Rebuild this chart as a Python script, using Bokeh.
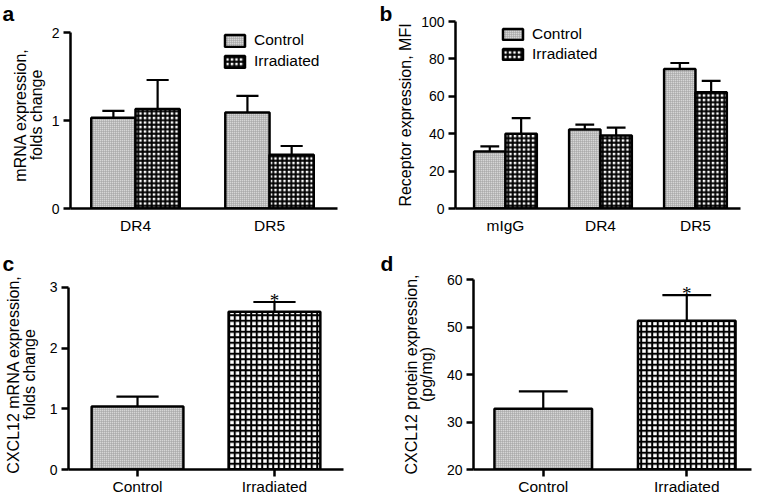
from bokeh.plotting import figure
from bokeh.models import ColumnDataSource, FixedTicker, Legend, LegendItem, Range1d
from bokeh.layouts import row, column
from bokeh.embed import file_html
from bokeh.resources import INLINE

FONT = "Liberation Sans"

# ---------------- data ----------------
group_labels = ["Control", "Irradiated"]

a_categories = ["DR4", "DR5"]
a_control = [1.03, 1.09]
a_control_sem = [0.08, 0.19]
a_irradiated = [1.13, 0.61]
a_irradiated_sem = [0.33, 0.10]
a_yticks = [0, 1, 2]

b_categories = ["mIgG", "DR4", "DR5"]
b_control = [30.5, 42.3, 74.6]
b_control_sem = [2.7, 2.5, 3.2]
b_irradiated = [40.0, 39.0, 62.2]
b_irradiated_sem = [8.3, 4.2, 6.0]
b_yticks = [0, 20, 40, 60, 80, 100]

c_categories = ["Control", "Irradiated"]
c_values = [1.04, 2.60]
c_sem = [0.16, 0.16]
c_marks = ["", "*"]
c_yticks = [0, 1, 2, 3]

d_categories = ["Control", "Irradiated"]
d_values = [32.8, 51.3]
d_sem = [3.65, 5.4]
d_marks = ["", "*"]
d_yticks = [20, 30, 40, 50, 60]

# ---------------- styles ----------------
CONTROL_STYLE = dict(fill_color="#d6d6d6", hatch_pattern="+", hatch_color="#9e9e9e",
                     hatch_scale=2, hatch_weight=1, line_color="black", line_width=2.5)


def irr_style(scale):
    return dict(fill_color="white", hatch_pattern="+", hatch_color="black",
                hatch_scale=scale, hatch_weight=2, line_color="black", line_width=2.5)


def make_fig(w, h, borders, xr, yr, ybounds, yticks, categories, ylabel, ylabel_standoff,
             xticks_visible, letter, letter_offset, letter_standoff):
    bl, br, bt, bb = borders
    p = figure(width=w, height=h, x_range=Range1d(*xr), y_range=Range1d(*yr),
               output_backend="svg", toolbar_location=None, title=letter,
               min_border_left=bl, min_border_right=br, min_border_top=bt, min_border_bottom=bb)
    p.title.text_font = FONT
    p.title.text_font_style = "bold"
    p.title.text_font_size = "21px"
    p.title.text_color = "black"
    p.title.align = "left"
    p.title.vertical_align = "top"
    p.title.offset = letter_offset
    p.title.standoff = letter_standoff
    p.outline_line_color = None
    p.xgrid.visible = False
    p.ygrid.visible = False
    p.background_fill_color = "white"
    p.border_fill_color = "white"
    for ax in p.axis:
        ax.axis_line_width = 2.5
        ax.axis_line_color = "black"
        ax.major_tick_line_width = 2.5
        ax.major_tick_line_color = "black"
        ax.major_tick_in = 0
        ax.minor_tick_line_color = None
        ax.minor_tick_out = 0
        ax.minor_tick_in = 0
        ax.major_label_text_font = FONT
        ax.major_label_text_color = "black"
        ax.axis_label_text_font = FONT
        ax.axis_label_text_font_style = "normal"
        ax.axis_label_text_font_size = "16px"
        ax.axis_label_text_color = "black"
        ax.axis_label_text_line_height = 0.9
    p.yaxis.ticker = FixedTicker(ticks=yticks)
    p.yaxis.bounds = ybounds
    p.yaxis.major_tick_out = 7
    p.yaxis.major_label_standoff = 4
    p.yaxis.major_label_text_font_size = "14px"
    p.yaxis.axis_label = ylabel
    p.yaxis.axis_label_standoff = ylabel_standoff
    positions = [i + 1 for i in range(len(categories))]
    p.xaxis.ticker = FixedTicker(ticks=positions)
    p.xaxis.major_label_overrides = {pos: cat for pos, cat in zip(positions, categories)}
    p.xaxis.major_label_text_font_size = "15.5px"
    if xticks_visible:
        p.xaxis.major_tick_out = 7
        p.xaxis.major_label_standoff = 1
    else:
        p.xaxis.major_tick_out = 0
        p.xaxis.major_tick_line_color = None
        p.xaxis.major_label_standoff = 8
    return p


def add_bars(p, x, values, sem, width, base, style, cap_frac=0.5):
    tops = [v + s for v, s in zip(values, sem)]
    src = ColumnDataSource(dict(
        x=x, top=values, bottom=[base] * len(values), err=tops,
        cx0=[xi - width * cap_frac / 2 for xi in x],
        cx1=[xi + width * cap_frac / 2 for xi in x],
    ))
    r = p.vbar(x="x", top="top", bottom="bottom", width=width, source=src, **style)
    p.segment(x0="x", y0="top", x1="x", y1="err", source=src, line_color="black", line_width=2.2)
    p.segment(x0="cx0", y0="err", x1="cx1", y1="err", source=src, line_color="black", line_width=2.2)
    return r


def add_legend(p, renderers, loc, glyph_h, spacing):
    items = [LegendItem(label=lab, renderers=[r]) for lab, r in zip(group_labels, renderers)]
    lg = Legend(items=items, location=loc, glyph_width=25, glyph_height=glyph_h,
                label_height=18, spacing=spacing, padding=0, margin=0,
                border_line_color=None, background_fill_alpha=0, label_standoff=7,
                label_text_font=FONT, label_text_font_size="15.5px",
                label_text_color="black", label_text_baseline="middle")
    p.add_layout(lg)


def add_marks(p, x, values, sem, marks):
    tops = [v + s for v, s in zip(values, sem)]
    src = ColumnDataSource(dict(x=x, y=tops, t=marks))
    p.text(x="x", y="y", text="t", source=src, text_align="center", text_baseline="alphabetic",
           y_offset=-2, text_font_size="19px", text_color="black", text_font=FONT)


Wl, Wr, Ht, Hb = 379, 379, 240, 257

# ---------------- panel a ----------------
pa = make_fig(Wl, Ht, (70, 42, 21, 32), (0.515, 2.507), (0, 2.125), (0, 2), a_yticks, a_categories,
              "mRNA expression,\nfolds change", 4, False, "a", -68, -10)
xa = [i + 1 for i in range(len(a_categories))]
bw_a = 0.33
ra1 = add_bars(pa, [x - bw_a / 2 for x in xa], a_control, a_control_sem, bw_a, 0, CONTROL_STYLE)
ra2 = add_bars(pa, [x + bw_a / 2 for x in xa], a_irradiated, a_irradiated_sem, bw_a, 0, irr_style(4.5))
add_legend(pa, [ra1, ra2], (152, 138), 15, 3)

# ---------------- panel b ----------------
pb = make_fig(Wr, Ht, (76, 18, 21, 32), (0.474, 3.474), (0, 100), (0, 100), b_yticks, b_categories,
              "Receptor expression, MFI", 4, False, "b", -76, -10)
xb = [i + 1 for i in range(len(b_categories))]
bw_b = 0.33
rb1 = add_bars(pb, [x - bw_b / 2 for x in xb], b_control, b_control_sem, bw_b, 0, CONTROL_STYLE, 0.6)
rb2 = add_bars(pb, [x + bw_b / 2 for x in xb], b_irradiated, b_irradiated_sem, bw_b, 0, irr_style(4.5), 0.6)
add_legend(pb, [rb1, rb2], (45, 145), 14, 2)

# ---------------- panel c ----------------
pc = make_fig(Wl, Hb, (68, 36, 39, 27), (0.496, 2.504), (0, 3.131), (0, 3), c_yticks, c_categories,
              "CXCL12 mRNA expression,\nfolds change", 9, True, "c", -66, 6)
xc = [i + 1 for i in range(len(c_categories))]
add_bars(pc, xc[:1], c_values[:1], c_sem[:1], 0.67, 0, CONTROL_STYLE, 0.46)
add_bars(pc, xc[1:], c_values[1:], c_sem[1:], 0.67, 0, irr_style(5.5), 0.46)
add_marks(pc, xc, c_values, c_sem, c_marks)

# ---------------- panel d ----------------
pd_ = make_fig(Wr, Hb, (94, 7, 39, 27), (0.514, 2.451), (20, 60), (20, 60), d_yticks, d_categories,
               "CXCL12 protein expression,\n(pg/mg)", 9, True, "d", -93, 6)
xd = [i + 1 for i in range(len(d_categories))]
add_bars(pd_, xd[:1], d_values[:1], d_sem[:1], 0.68, 20, CONTROL_STYLE, 0.5)
add_bars(pd_, xd[1:], d_values[1:], d_sem[1:], 0.68, 20, irr_style(5.5), 0.5)
add_marks(pd_, xd, d_values, d_sem, d_marks)

layout = column(row(pa, pb), row(pc, pd_))

open("out.html", "w").write(file_html(layout, INLINE))
